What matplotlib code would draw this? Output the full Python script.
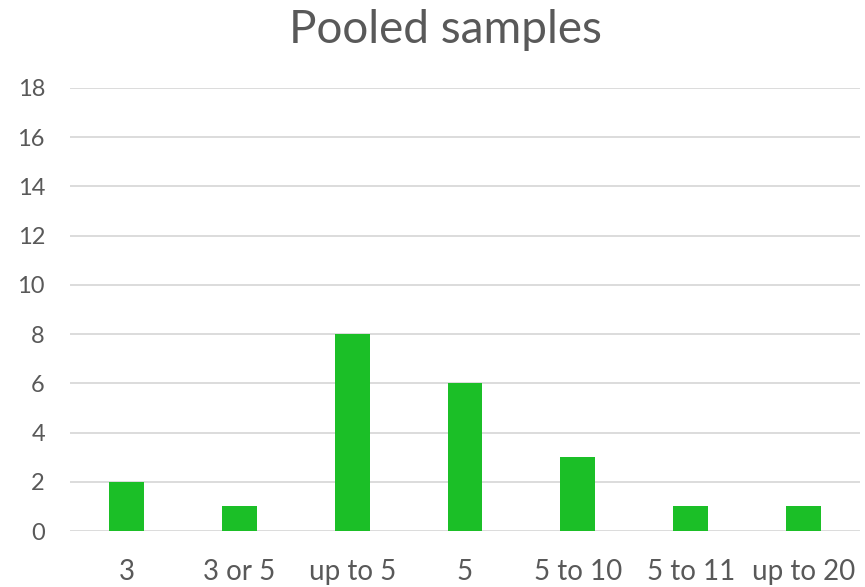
import matplotlib
matplotlib.use("Agg")
from matplotlib import pyplot as plt

# pooling sizes and number of studies using each
categories = ['3', '3 or 5', 'up to 5', '5', '5 to 10', '5 to 11', 'up to 20']
counts = [2, 1, 8, 6, 3, 1, 1]
yticks = [0, 2, 4, 6, 8, 10, 12, 14, 16, 18]

plt.rcParams['font.family'] = ['Lato', 'DejaVu Sans']
txt = '#595959'

fig = plt.figure(figsize=(8.65, 5.87), dpi=100)
ax = fig.add_axes([70 / 865, 1 - 531 / 587, 790 / 865, 443 / 587])

x = range(len(categories))
ax.bar(x, counts, width=0.31, color='#1bbf27', zorder=3)

ax.set_xlim(-0.5, len(categories) - 0.5)
ax.set_ylim(0, 18)
ax.set_yticks(yticks)
ax.set_xticks(list(x))
ax.set_xticklabels(categories)

ax.grid(axis='y', color='#d9d9d9', lw=1.3, zorder=0)
for s in ax.spines.values():
    s.set_visible(False)
ax.tick_params(axis='both', length=0, colors=txt)
ax.tick_params(axis='y', labelsize=17, pad=18)
ax.tick_params(axis='x', labelsize=20, pad=20)

fig.text(0.515, 1 - 30 / 587, 'Pooled samples', ha='center', va='center',
         fontsize=33, color=txt)

plt.savefig('out.png', dpi=100)
